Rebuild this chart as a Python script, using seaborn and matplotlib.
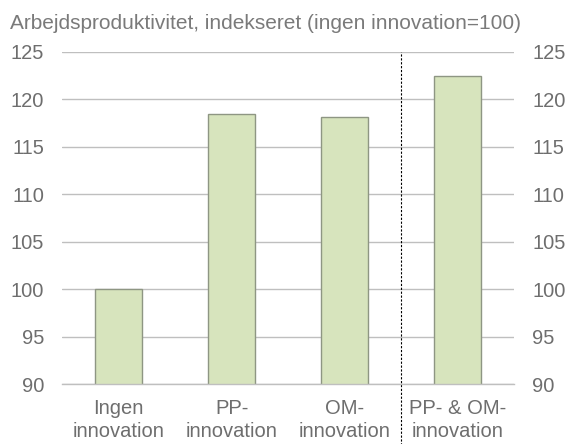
import matplotlib
matplotlib.use("Agg")
import matplotlib.pyplot as plt
import numpy as np
import pandas as pd
import seaborn as sns

# data
categories = ["Ingen\ninnovation", "PP-\ninnovation", "OM-\ninnovation", "PP- & OM-\ninnovation"]
productivity = [100.0, 118.5, 118.1, 122.5]
y_ticks = [90, 95, 100, 105, 110, 115, 120, 125]
title = "Arbejdsproduktivitet, indekseret (ingen innovation=100)"

sns.set_style("white")
plt.rcParams['font.family'] = ['Liberation Sans', 'DejaVu Sans']

text_col = "#6E6E6E"
grid_col = "#BFBFBF"
fs = 14.5

df = pd.DataFrame({"kategori": categories, "indeks": productivity})

fig = plt.figure(figsize=(5.7, 4.44), dpi=100)
ax = fig.add_axes([0.109, 0.135, 0.793, 0.748])

sns.barplot(data=df, x="kategori", y="indeks", ax=ax, color="#D7E4BD",
            edgecolor="#8E9683", linewidth=1.0, width=0.41, saturation=1)

ax.set_ylim(90, 125)
ax.set_xlim(-0.5, 3.5)
ax.set_yticks(y_ticks)
ax.set_axisbelow(True)
ax.yaxis.grid(True, color=grid_col, linewidth=1.0)
ax.set_xlabel("")
ax.set_ylabel("")

for s in ["top", "right", "left"]:
    ax.spines[s].set_visible(False)
ax.spines["bottom"].set_color(grid_col)
ax.spines["bottom"].set_linewidth(1.0)

# category boundaries as tick marks, labels in between
ax.set_xticks(np.arange(len(categories)))
ax.set_xticklabels(categories, fontsize=fs, color=text_col, linespacing=1.25)
ax.set_xticks(np.arange(len(categories) + 1) - 0.5, minor=True)
ax.tick_params(axis="x", which="major", length=0, pad=11)
ax.tick_params(axis="x", which="minor", length=5, color=grid_col, width=1)
ax.tick_params(axis="y", length=0, labelsize=fs, labelcolor=text_col, pad=13)

# right axis mirrors the left
ax2 = ax.twinx()
ax2.set_ylim(ax.get_ylim())
ax2.set_yticks(y_ticks)
ax2.tick_params(axis="y", length=0, labelsize=fs, labelcolor=text_col, pad=13)
for s in ax2.spines.values():
    s.set_visible(False)

# dotted separator before the last group
ax.axvline(2.5, ymin=-0.19, ymax=1.0, color="black", linestyle=(0, (2, 1.5)),
           linewidth=0.8, clip_on=False)

fig.text(0.017, 0.935, title, fontsize=15, color="#7A7A7A", va="baseline", ha="left")

fig.savefig("out.png", dpi=100)
